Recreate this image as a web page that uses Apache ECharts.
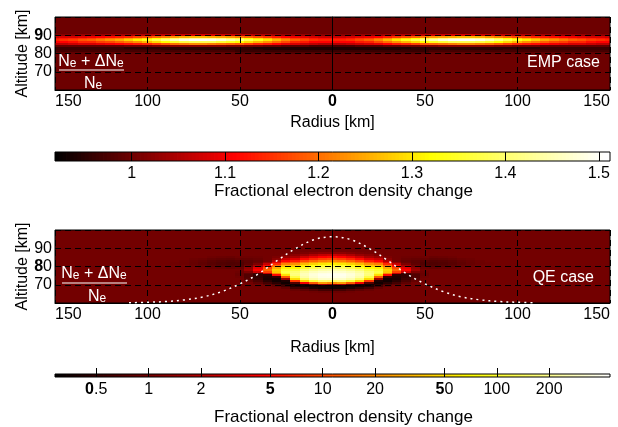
<!DOCTYPE html>
<html>
<head>
<meta charset="utf-8">
<script src="https://cdn.jsdelivr.net/npm/echarts@6/dist/echarts.min.js"></script>
<style>
  html, body { margin: 0; padding: 0; background: #fff; }
  #chart { width: 618px; height: 427px; }
</style>
</head>
<body>
<div id="chart"></div>
<script>
// Undisturbed ratio (Ne + dNe) / Ne
const BACKGROUND = 1.0;

// ---------- EMP case: rows of the layer, values at radius 0..150 km (5 km step) ----------
const EMP_RADII = [0, 5, 10, 15, 20, 25, 30, 35, 40, 45, 50, 55, 60, 65, 70, 75, 80, 85, 90, 95, 100, 105, 110, 115, 120, 125, 130, 135, 140, 145, 150];
const emp91 = [1.02, 1.02, 1.02, 1.03, 1.03, 1.03, 1.04, 1.05, 1.05, 1.06, 1.06, 1.07, 1.07, 1.08, 1.08, 1.08, 1.07, 1.07, 1.06, 1.06, 1.05, 1.05, 1.04, 1.04, 1.04, 1.03, 1.03, 1.03, 1.02, 1.02, 1.02];
const emp90 = [1.07, 1.07, 1.08, 1.09, 1.10, 1.11, 1.13, 1.15, 1.17, 1.19, 1.21, 1.23, 1.24, 1.25, 1.26, 1.26, 1.25, 1.23, 1.21, 1.19, 1.17, 1.16, 1.14, 1.13, 1.12, 1.11, 1.10, 1.09, 1.08, 1.08, 1.07];
const emp89 = [1.12, 1.12, 1.13, 1.15, 1.16, 1.19, 1.22, 1.26, 1.29, 1.32, 1.36, 1.38, 1.41, 1.43, 1.43, 1.43, 1.42, 1.39, 1.36, 1.32, 1.29, 1.26, 1.24, 1.21, 1.20, 1.18, 1.16, 1.15, 1.14, 1.13, 1.12];
const emp88 = [1.14, 1.14, 1.15, 1.17, 1.19, 1.22, 1.26, 1.30, 1.34, 1.38, 1.42, 1.45, 1.48, 1.50, 1.51, 1.51, 1.49, 1.46, 1.42, 1.38, 1.34, 1.31, 1.28, 1.25, 1.23, 1.21, 1.19, 1.18, 1.16, 1.15, 1.14];
const emp87 = [1.11, 1.11, 1.11, 1.13, 1.14, 1.17, 1.20, 1.23, 1.26, 1.29, 1.32, 1.34, 1.36, 1.38, 1.38, 1.38, 1.37, 1.35, 1.32, 1.29, 1.26, 1.23, 1.21, 1.19, 1.17, 1.16, 1.14, 1.14, 1.12, 1.11, 1.11];
const emp86 = [1.05, 1.05, 1.06, 1.07, 1.08, 1.09, 1.11, 1.13, 1.14, 1.16, 1.18, 1.19, 1.20, 1.21, 1.22, 1.22, 1.21, 1.20, 1.18, 1.16, 1.14, 1.13, 1.12, 1.11, 1.10, 1.09, 1.08, 1.08, 1.07, 1.06, 1.06];
const emp85 = [0.97, 0.97, 0.97, 0.98, 0.98, 0.98, 0.99, 0.99, 1.00, 1.00, 1.01, 1.01, 1.02, 1.02, 1.02, 1.02, 1.02, 1.02, 1.01, 1.01, 1.00, 1.00, 1.00, 0.99, 0.99, 0.99, 0.99, 0.99, 0.99, 0.99, 0.99];
const emp84 = [0.94, 0.94, 0.94, 0.94, 0.94, 0.94, 0.94, 0.94, 0.94, 0.95, 0.95, 0.95, 0.95, 0.95, 0.95, 0.95, 0.95, 0.95, 0.95, 0.95, 0.95, 0.95, 0.95, 0.96, 0.96, 0.96, 0.96, 0.96, 0.96, 0.96, 0.96];
const emp83 = [0.94, 0.94, 0.94, 0.94, 0.94, 0.94, 0.94, 0.94, 0.95, 0.95, 0.95, 0.95, 0.95, 0.95, 0.95, 0.95, 0.95, 0.95, 0.95, 0.96, 0.96, 0.96, 0.96, 0.96, 0.96, 0.96, 0.96, 0.96, 0.96, 0.96, 0.96];
const emp82 = [0.96, 0.96, 0.96, 0.96, 0.96, 0.96, 0.96, 0.96, 0.96, 0.96, 0.96, 0.97, 0.97, 0.97, 0.97, 0.97, 0.97, 0.97, 0.97, 0.97, 0.97, 0.97, 0.97, 0.97, 0.97, 0.97, 0.97, 0.97, 0.97, 0.97, 0.97];
const emp81 = [0.98, 0.98, 0.98, 0.98, 0.98, 0.98, 0.98, 0.98, 0.98, 0.98, 0.98, 0.99, 0.99, 0.99, 0.99, 0.99, 0.99, 0.99, 0.99, 0.99, 0.99, 0.99, 0.99, 0.99, 0.99, 0.99, 0.99, 0.99, 0.99, 0.99, 0.99];
const EMP_ALTS = [91, 90, 89, 88, 87, 86, 85, 84, 83, 82, 81];
const EMP_ROWS = [emp91, emp90, emp89, emp88, emp87, emp86, emp85, emp84, emp83, emp82, emp81];

// ---------- QE case: columns at radius r, values at altitude 66..89 km (1 km step) ----------
const QE_ALTS = [66, 67, 68, 69, 70, 71, 72, 73, 74, 75, 76, 77, 78, 79, 80, 81, 82, 83, 84, 85, 86, 87, 88, 89];
const qeR0  = [1.0, 0.9, 0.6, 0.35, 0.35, 1.5, 20, 150, 300, 380, 400, 380, 320, 250, 160, 100, 60, 35, 20, 10, 5, 2.5, 1.3, 1.0];
const qeR5  = [1.0, 0.9, 0.6, 0.35, 0.35, 1.8, 25, 160, 300, 370, 390, 370, 310, 240, 150, 95, 55, 32, 18, 9, 4.5, 2.3, 1.3, 1.0];
const qeR10 = [1.0, 0.95, 0.7, 0.4, 0.35, 0.8, 12, 110, 250, 320, 340, 330, 280, 210, 130, 80, 45, 26, 14, 7, 3.5, 1.9, 1.2, 1.0];
const qeR15 = [1.0, 1.0, 0.8, 0.5, 0.35, 0.4, 4, 45, 160, 240, 270, 270, 230, 170, 100, 60, 34, 19, 10, 5, 2.6, 1.5, 1.1, 1.0];
const qeR20 = [1.0, 1.0, 0.9, 0.6, 0.4, 0.35, 0.7, 8, 50, 120, 170, 180, 160, 120, 70, 40, 22, 12, 6, 3.2, 1.8, 1.3, 1.05, 1.0];
const qeR25 = [1.0, 1.0, 1.0, 0.85, 0.6, 0.45, 0.35, 0.4, 1.5, 12, 50, 100, 120, 100, 65, 35, 18, 9, 4.5, 2.5, 1.5, 1.1, 1.0, 1.0];
const qeR30 = [1.0, 1.0, 1.0, 1.0, 0.85, 0.65, 0.45, 0.35, 0.35, 0.5, 5, 20, 40, 45, 30, 15, 7, 3.5, 2, 1.3, 1.1, 1.0, 1.0, 1.0];
const qeR35 = [1.0, 1.0, 1.0, 1.0, 1.0, 0.8, 0.6, 0.45, 0.38, 0.4, 0.45, 2.5, 9, 14, 10, 5, 2.5, 1.4, 1.0, 1.0, 1.0, 1.0, 1.0, 1.0];
const qeR40 = [1.0, 1.0, 1.0, 1.0, 1.0, 1.0, 0.8, 0.65, 0.55, 0.5, 0.5, 0.6, 2.5, 4.5, 3.5, 1.8, 1.1, 0.9, 0.85, 0.9, 0.96, 1.0, 1.0, 1.0];
const qeR45 = [1.0, 1.0, 1.0, 1.0, 1.0, 1.0, 1.0, 0.85, 0.75, 0.7, 0.7, 0.8, 1.1, 1.6, 1.4, 1.0, 0.82, 0.78, 0.8, 0.86, 0.95, 1.0, 1.0, 1.0];
const qeR50 = [1.0, 1.0, 1.0, 1.0, 1.0, 1.0, 1.0, 1.0, 1.0, 0.95, 0.9, 0.9, 0.95, 1.0, 0.9, 0.75, 0.7, 0.7, 0.75, 0.85, 0.95, 1.0, 1.0, 1.0];
const qeR55 = [1.0, 1.0, 1.0, 1.0, 1.0, 1.0, 1.0, 1.0, 1.0, 1.0, 1.0, 1.0, 1.0, 1.0, 0.85, 0.72, 0.68, 0.68, 0.72, 0.8, 0.9, 1.0, 1.0, 1.0];
const qeR60 = [1.0, 1.0, 1.0, 1.0, 1.0, 1.0, 1.0, 1.0, 1.0, 1.0, 1.0, 1.0, 1.0, 1.0, 0.88, 0.75, 0.7, 0.7, 0.74, 0.82, 0.92, 1.0, 1.0, 1.0];
const qeR65 = [1.0, 1.0, 1.0, 1.0, 1.0, 1.0, 1.0, 1.0, 1.0, 1.0, 1.0, 1.0, 1.0, 1.0, 0.9, 0.8, 0.75, 0.75, 0.78, 0.85, 0.95, 1.0, 1.0, 1.0];
const qeR70 = [1.0, 1.0, 1.0, 1.0, 1.0, 1.0, 1.0, 1.0, 1.0, 1.0, 1.0, 1.0, 1.0, 1.0, 0.95, 0.87, 0.82, 0.82, 0.85, 0.92, 1.0, 1.0, 1.0, 1.0];
const qeR75 = [1.0, 1.0, 1.0, 1.0, 1.0, 1.0, 1.0, 1.0, 1.0, 1.0, 1.0, 1.0, 1.0, 1.0, 1.0, 0.92, 0.88, 0.88, 0.9, 0.95, 1.0, 1.0, 1.0, 1.0];
const qeR80 = [1.0, 1.0, 1.0, 1.0, 1.0, 1.0, 1.0, 1.0, 1.0, 1.0, 1.0, 1.0, 1.0, 1.0, 1.0, 1.0, 0.94, 0.94, 0.95, 1.0, 1.0, 1.0, 1.0, 1.0];
const qeR85 = [1.0, 1.0, 1.0, 1.0, 1.0, 1.0, 1.0, 1.0, 1.0, 1.0, 1.0, 1.0, 1.0, 1.0, 1.0, 1.0, 0.97, 0.97, 1.0, 1.0, 1.0, 1.0, 1.0, 1.0];
const QE_RADII = [0, 5, 10, 15, 20, 25, 30, 35, 40, 45, 50, 55, 60, 65, 70, 75, 80, 85];
const QE_COLUMNS = [qeR0, qeR5, qeR10, qeR15, qeR20, qeR25, qeR30, qeR35, qeR40, qeR45, qeR50, qeR55, qeR60, qeR65, qeR70, qeR75, qeR80, qeR85];

// White dotted curve in the QE panel (radius km, altitude km)
const CURVE_R   = [-110, -100, -90, -80, -70, -60, -50, -40, -30, -20, -10, 0, 10, 20, 30, 40, 50, 60, 70, 80, 90, 100, 110];
const CURVE_ALT = [60.1, 60.4, 60.8, 61.7, 63.3, 66.2, 70.5, 76.0, 83.2, 89.8, 94.7, 96.3, 94.7, 89.8, 83.2, 76.0, 70.5, 66.2, 63.3, 61.7, 60.8, 60.4, 60.1];

// Colour bar ranges and tick labels
const EMP_MIN = 0.918, EMP_MAX = 1.512;
const EMP_TICKS = [1, 1.1, 1.2, 1.3, 1.4, 1.5];
const QE_MIN = 0.29, QE_MAX = 447;
const QE_TICKS = [0.5, 1, 2, 5, 10, 20, 50, 100, 200];
const QE_TICK_TEXT = ['{b|0}.5', '1', '2', '{b|5}', '10', '20', '{b|5}0', '100', '200'];

const FONT = "'Liberation Sans', Arial, Helvetica, sans-serif";
const TICK_SIZE = 16;
const NAME_SIZE = 16;

// ---------- colour maps ----------
function hot(t) {
  t = Math.max(0, Math.min(1, t));
  const r = Math.min(1, t / 0.375);
  const g = Math.max(0, Math.min(1, (t - 0.375) / 0.375));
  const b = Math.max(0, Math.min(1, (t - 0.75) / 0.25));
  return 'rgb(' + Math.round(r * 255) + ',' + Math.round(g * 255) + ',' + Math.round(b * 255) + ')';
}
const EMP_STOPS = [[EMP_MIN, 0], [1.11, 0.375], [1.32, 0.75], [1.505, 1]];
function empColor(v) {
  if (v <= EMP_STOPS[0][0]) return hot(0);
  for (let i = 1; i < EMP_STOPS.length; i++) {
    const a = EMP_STOPS[i - 1], b = EMP_STOPS[i];
    if (v <= b[0]) return hot(a[1] + (v - a[0]) / (b[0] - a[0]) * (b[1] - a[1]));
  }
  return hot(1);
}
const QE_LOG_MIN = Math.log10(QE_MIN), QE_LOG_MAX = Math.log10(QE_MAX);
function qeLogColor(lv) { return hot((lv - QE_LOG_MIN) / (QE_LOG_MAX - QE_LOG_MIN)); }
function qeColor(v) { return qeLogColor(Math.log10(v)); }

// ---------- cell tables ----------
const empData = [];
for (let z = 60; z <= 100; z++) {
  const k = EMP_ALTS.indexOf(z);
  for (let i = -(EMP_RADII.length - 1); i < EMP_RADII.length; i++) {
    const j = Math.abs(i);
    empData.push([Math.sign(i) * EMP_RADII[j], z, k >= 0 ? EMP_ROWS[k][j] : BACKGROUND]);
  }
}
const qeData = [];
for (let z = 60; z <= 100; z++) {
  const k = QE_ALTS.indexOf(z);
  for (let i = -30; i <= 30; i++) {
    const r = i * 5;
    const c = QE_RADII.indexOf(Math.abs(r));
    qeData.push([r, z, (k >= 0 && c >= 0) ? QE_COLUMNS[c][k] : BACKGROUND]);
  }
}

function cellItem(colorFn, dr, dz) {
  return function (params, api) {
    const r = api.value(0), z = api.value(1), v = api.value(2);
    const a = api.coord([r - dr / 2, z + dz / 2]);
    const b = api.coord([r + dr / 2, z - dz / 2]);
    const x0 = Math.floor(a[0]), y0 = Math.floor(a[1]);
    return {
      type: 'rect',
      shape: { x: x0, y: y0, width: Math.ceil(b[0]) - x0 + 1, height: Math.ceil(b[1]) - y0 + 1 },
      style: { fill: colorFn(v) }
    };
  };
}

function barCells(lo, hi, n) {
  const out = [];
  for (let i = 0; i < n; i++) out.push([lo + (hi - lo) * i / n, lo + (hi - lo) * (i + 1) / n]);
  return out;
}
function barItem(colorFn) {
  return function (params, api) {
    const x0 = api.value(0), x1 = api.value(1);
    const a = api.coord([x0, 1]), b = api.coord([x1, 0]);
    return {
      type: 'rect',
      shape: { x: a[0], y: a[1], width: b[0] - a[0] + 0.8, height: b[1] - a[1] },
      style: { fill: colorFn((x0 + x1) / 2) }
    };
  };
}

// ---------- axes ----------
const BOLD_RICH = { b: { fontWeight: 'bold', fontSize: TICK_SIZE, fontFamily: FONT, color: '#000' } };
function radiusAxis(gridIndex, nameGap) {
  return {
    type: 'value', gridIndex: gridIndex, min: -150, max: 150, interval: 50,
    axisLine: { show: true, lineStyle: { color: '#000', width: 1 } },
    axisTick: { show: false },
    splitLine: { show: true, lineStyle: { color: '#000', type: [6, 4], width: 1 } },
    axisLabel: {
      color: '#000', fontFamily: FONT, fontSize: TICK_SIZE, margin: 4,
      alignMinLabel: 'left', alignMaxLabel: 'right',
      formatter: function (v) { return v === 0 ? '{b|0}' : String(Math.abs(v)); },
      rich: BOLD_RICH
    },
    name: 'Radius [km]', nameLocation: 'middle', nameGap: nameGap, nameMoveOverlap: false,
    nameTextStyle: { color: '#000', fontFamily: FONT, fontSize: NAME_SIZE }
  };
}
function altitudeAxis(gridIndex, boldValue) {
  return {
    type: 'value', gridIndex: gridIndex, min: 60, max: 100, interval: 10,
    axisLine: { show: true, lineStyle: { color: '#000', width: 1 } },
    axisTick: { show: false },
    splitLine: { show: true, lineStyle: { color: '#000', type: [6, 4], width: 1 } },
    axisLabel: {
      color: '#000', fontFamily: FONT, fontSize: TICK_SIZE, margin: 3,
      formatter: function (v) {
        if (v !== 70 && v !== 80 && v !== 90) return '';
        return v === boldValue ? '{b|' + String(v)[0] + '}0' : String(v);
      },
      rich: BOLD_RICH
    },
    name: 'Altitude [km]', nameLocation: 'middle', nameGap: 24, nameRotate: 90, nameMoveOverlap: false,
    nameTextStyle: { color: '#000', fontFamily: FONT, fontSize: NAME_SIZE }
  };
}
function barAxis(gridIndex, min, max, ticks, formatter, nameGap) {
  return {
    type: 'value', gridIndex: gridIndex, min: min, max: max,
    axisLine: { show: false },
    splitLine: { show: false },
    axisTick: { show: true, inside: true, length: 9, customValues: ticks, lineStyle: { color: '#000', width: 1 } },
    axisLabel: {
      customValues: ticks, color: '#000', fontFamily: FONT, fontSize: TICK_SIZE, margin: 5,
      formatter: formatter,
      rich: BOLD_RICH
    },
    name: 'Fractional electron density change', nameLocation: 'middle', nameGap: nameGap, nameMoveOverlap: false,
    nameTextStyle: { color: '#000', fontFamily: FONT, fontSize: NAME_SIZE + 1, padding: [0, 0, 0, 22] }
  };
}

// ---------- white annotations ----------
const RICH_FRAC = {
  n: { fontSize: 16, fontFamily: FONT, fill: '#fff', color: '#fff', lineHeight: 20, verticalAlign: 'bottom' },
  s: { fontSize: 12, fontFamily: FONT, fill: '#fff', color: '#fff', lineHeight: 9, verticalAlign: 'bottom' }
};
function fraction(cxNum, yNum, yBar, x1, x2, cxDen, yDen) {
  return [
    { type: 'text', x: cxNum, y: yNum, z: 100,
      style: { text: '{n|N}{s|e}{n| + ΔN}{s|e}', rich: RICH_FRAC, align: 'center', verticalAlign: 'middle', fill: '#fff' } },
    { type: 'line', z: 100, shape: { x1: x1, y1: yBar, x2: x2, y2: yBar }, style: { stroke: '#fff', lineWidth: 1.2 } },
    { type: 'text', x: cxDen, y: yDen, z: 100,
      style: { text: '{n|N}{s|e}', rich: RICH_FRAC, align: 'center', verticalAlign: 'middle', fill: '#fff' } }
  ];
}
function caseLabel(text, xRight, y) {
  return { type: 'text', x: xRight, y: y, z: 100,
    style: { text: text, fill: '#fff', font: '16px ' + FONT, align: 'right', verticalAlign: 'middle' } };
}

const gridBase = { show: true, borderColor: '#000', borderWidth: 1, backgroundColor: 'transparent', containLabel: false };

const option = {
  animation: false,
  grid: [
    Object.assign({ left: 55, top: 17, width: 555, height: 73 }, gridBase),
    Object.assign({ left: 55, top: 152, width: 555, height: 9 }, gridBase),
    Object.assign({ left: 55, top: 230, width: 555, height: 73 }, gridBase),
    Object.assign({ left: 55, top: 374, width: 555, height: 9 }, gridBase)
  ],
  xAxis: [
    radiusAxis(0, 25),
    barAxis(1, EMP_MIN, EMP_MAX, EMP_TICKS, function (v) { return String(+v.toFixed(1)); }, 22),
    radiusAxis(2, 37),
    barAxis(3, Math.log10(QE_MIN), Math.log10(QE_MAX), QE_TICKS.map(Math.log10), function (v) {
      let best = 0;
      QE_TICKS.forEach(function (t, i) {
        if (Math.abs(Math.log10(t) - v) < Math.abs(Math.log10(QE_TICKS[best]) - v)) best = i;
      });
      return QE_TICK_TEXT[best];
    }, 32)
  ],
  yAxis: [
    altitudeAxis(0, 90),
    { type: 'value', gridIndex: 1, min: 0, max: 1, show: false },
    altitudeAxis(2, 80),
    { type: 'value', gridIndex: 3, min: 0, max: 1, show: false }
  ],
  series: [
    { type: 'custom', name: 'EMP case', xAxisIndex: 0, yAxisIndex: 0, z: -5, clip: true,
      encode: { x: 0, y: 1 }, renderItem: cellItem(empColor, 5, 1), data: empData },
    { type: 'custom', name: 'EMP scale', xAxisIndex: 1, yAxisIndex: 1, z: -5, clip: true,
      encode: { x: [0, 1] }, renderItem: barItem(empColor), data: barCells(EMP_MIN, EMP_MAX, 150) },
    { type: 'custom', name: 'QE case', xAxisIndex: 2, yAxisIndex: 2, z: -5, clip: true,
      encode: { x: 0, y: 1 }, renderItem: cellItem(qeColor, 5, 1), data: qeData },
    { type: 'line', name: 'QE curve', xAxisIndex: 2, yAxisIndex: 2, z: 5, smooth: 0.35,
      showSymbol: false, symbol: 'none', clip: true,
      lineStyle: { color: '#fff', width: 1.5, type: [2, 4] },
      data: CURVE_R.map(function (r, i) { return [r, CURVE_ALT[i]]; }) },
    { type: 'custom', name: 'QE scale', xAxisIndex: 3, yAxisIndex: 3, z: -5, clip: true,
      encode: { x: [0, 1] }, renderItem: barItem(qeLogColor),
      data: barCells(Math.log10(QE_MIN), Math.log10(QE_MAX), 150) }
  ],
  graphic: [].concat(
    fraction(91, 60, 70, 59, 124, 93, 82),
    fraction(94, 272, 283, 62, 127, 97, 295),
    [caseLabel('EMP case', 600, 63), caseLabel('QE case', 594, 278)]
  )
};

const chart = echarts.init(document.getElementById('chart'), null, { renderer: 'canvas' });
chart.setOption(option);
</script>
</body>
</html>
